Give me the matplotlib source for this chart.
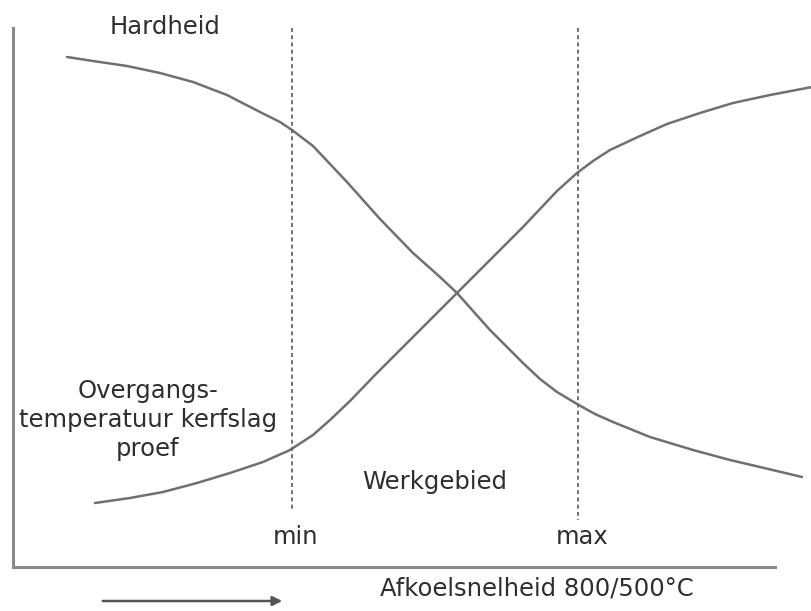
import matplotlib.pyplot as plt

# --- 데이터 (이미지 좌표 기준으로 읽은 값) ---
# 아래로 내려가는 곡선 (Hardheid)
hard_x = [67, 93, 127, 160, 193, 227, 260, 280, 292, 313, 330, 347, 380, 413, 440, 457,
          490, 523, 540, 557, 577, 595, 613, 650, 693, 730, 760, 802]
hard_y = [57, 61, 66, 73, 82, 95, 112, 122, 130, 146, 164, 182, 219, 253, 277, 293,
          330, 363, 379, 392, 404, 414, 422, 437, 450, 460, 467, 477]

# 올라가는 곡선 (Overgangstemperatuur kerfslag proef)
trans_x = [95, 130, 163, 197, 230, 263, 290, 313, 330, 350, 375, 400, 440, 457, 490, 523,
           557, 577, 593, 610, 640, 667, 700, 733, 770, 812]
trans_y = [503, 498, 492, 483, 473, 462, 450, 435, 420, 401, 375, 350, 310, 293, 260, 227,
           191, 173, 161, 150, 136, 124, 113, 103, 95, 87]

# 작업 구간 경계
limit_x = [292, 578]
limit_bottom = [510, 520]
limit_labels = ['min', 'max']

LINE_COLOR = '#707070'
TEXT_COLOR = '#2e2e2e'
FS = 17.5

fig = plt.figure(figsize=(8.12, 6.11), dpi=100)
ax = fig.add_axes([13 / 812, 44 / 611, 762 / 812, 539 / 611])
ax.set_xlim(13, 775)
ax.set_ylim(567, 28)

for side in ['top', 'right']:
    ax.spines[side].set_visible(False)
for side in ['left', 'bottom']:
    ax.spines[side].set_color('#8a8a8a')
    ax.spines[side].set_linewidth(2.2)
ax.set_xticks([])
ax.set_yticks([])

ax.plot(hard_x, hard_y, color=LINE_COLOR, lw=1.8, clip_on=False,
        solid_capstyle='round', solid_joinstyle='round')
ax.plot(trans_x, trans_y, color=LINE_COLOR, lw=1.8, clip_on=False,
        solid_capstyle='round', solid_joinstyle='round')

for x, yb, lab in zip(limit_x, limit_bottom, limit_labels):
    ax.plot([x, x], [28, yb], color='#666666', lw=1.3, linestyle=(0, (2.2, 1.8)))
    ax.text(x + 4, 537, lab, ha='center', va='center', fontsize=FS, color=TEXT_COLOR)

ax.text(165, 27, 'Hardheid', ha='center', va='center', fontsize=FS, color=TEXT_COLOR)
ax.text(148, 420, 'Overgangs-\ntemperatuur kerfslag\nproef', ha='center', va='center',
        fontsize=FS, color=TEXT_COLOR, linespacing=1.25)
ax.text(435, 482, 'Werkgebied', ha='center', va='center', fontsize=FS, color=TEXT_COLOR)
ax.text(537, 589, 'Afkoelsnelheid 800/500°C', ha='center', va='center', fontsize=FS, color=TEXT_COLOR)

ax.annotate('', xy=(285, 601), xytext=(100, 601), annotation_clip=False,
            arrowprops=dict(arrowstyle='-|>', color='#555555', lw=1.8, mutation_scale=14))

fig.savefig('out.png', dpi=100)
